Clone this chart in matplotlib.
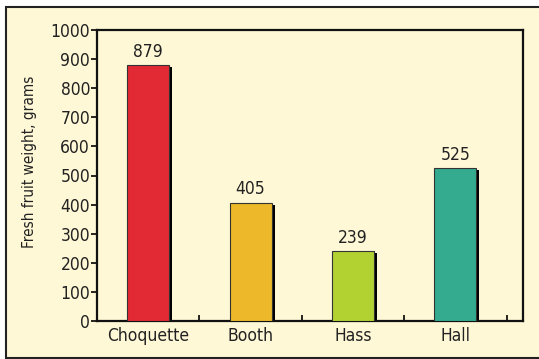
import matplotlib
matplotlib.use("Agg")
import matplotlib.pyplot as plt
from matplotlib.patches import Rectangle
import matplotlib.transforms as mtransforms

categories = ["Choquette", "Booth", "Hass", "Hall"]
weights = [879, 405, 239, 525]
colors = ["#E12A33", "#EDB92A", "#B2D232", "#34AB8E"]
yticks = [0, 100, 200, 300, 400, 500, 600, 700, 800, 900, 1000]

plt.rcParams["font.family"] = ["DejaVu Sans"]
plt.rcParams["font.stretch"] = "condensed"

W, H = 539, 359
fig = plt.figure(figsize=(W / 100, H / 100), dpi=100)
fig.patch.set_facecolor("white")

# cream panel with dark frame
fig.patches.append(Rectangle((5.5 / W, 1.5 / H), 1.0, (H - 8.5) / H,
                             transform=fig.transFigure, facecolor="#FEF8D6",
                             edgecolor="#222222", linewidth=1.5, zorder=-10))

ax = fig.add_axes([97 / W, (H - 321) / H, (523 - 97) / W, (321 - 30) / H])
ax.set_zorder(1)
ax.set_facecolor("#FEF8D6")
ax.set_xlim(-0.5, 3.66)
ax.set_ylim(0, 1000)

x = range(len(categories))
bw = 0.41
shadow = mtransforms.offset_copy(ax.transData, fig=fig, x=3, y=-2, units="dots")
ax.bar(x, weights, width=bw, color="black", transform=shadow, zorder=2)
ax.bar(x, weights, width=bw, color=colors, edgecolor="#333333", linewidth=0.8, zorder=3)

for xi, v in zip(x, weights):
    ax.text(xi, v + 16, str(v), ha="center", va="bottom", fontsize=12.5, color="#222222")

ax.set_yticks(yticks)
ax.set_yticklabels([str(t) for t in yticks], fontsize=12.5, color="#222222")
ax.set_xticks([i + 0.5 for i in range(-1, 4)])
ax.set_xticklabels([])
ax.set_xticks(list(x), minor=True)
ax.set_xticklabels(categories, minor=True, fontsize=12.5, color="#222222")
ax.tick_params(axis="x", which="minor", length=0, pad=4)
ax.tick_params(axis="x", which="major", direction="in", length=4, width=1.2)
ax.tick_params(axis="y", direction="out", length=4, width=1.2, pad=1)

for s in ax.spines.values():
    s.set_linewidth(1.6)
    s.set_color("#111111")

ax.set_ylabel("Fresh fruit weight, grams", fontsize=11, color="#222222")
ax.yaxis.set_label_coords(-0.140, 0.548)

fig.savefig("out.png", dpi=100, facecolor=fig.get_facecolor())
